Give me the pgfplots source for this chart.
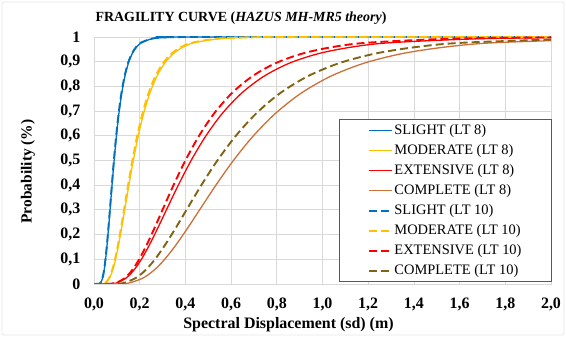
\documentclass[border=0pt]{standalone}
\usepackage{fontspec}
\setmainfont{Liberation Serif}
\usepackage{pgfplots}
\pgfplotsset{compat=1.18}
\definecolor{cSlight}{RGB}{0,112,192}
\definecolor{cMod}{RGB}{255,192,0}
\definecolor{cExt}{RGB}{255,0,0}
\definecolor{cComp}{RGB}{204,112,56}
\definecolor{cComp10}{RGB}{128,100,20}
\definecolor{gridc}{RGB}{217,217,217}
\definecolor{legc}{RGB}{89,89,89}
\begin{document}
\begin{tikzpicture}
\path[use as bounding box] (0bp,0bp) rectangle (566bp,337bp);
\draw[gray!20, line width=0.8bp, rounded corners=2bp] (2bp,2bp) rectangle (564bp,335bp);
\begin{axis}[
  at={(94bp,53bp)}, anchor=south west,
  scale only axis, width=457bp, height=247bp,
  xmin=0, xmax=2, ymin=0, ymax=1,
  xtick={0,0.2,0.4,0.6,0.8,1,1.2,1.4,1.6,1.8,2},
  ytick={0,0.1,0.2,0.3,0.4,0.5,0.6,0.7,0.8,0.9,1},
  grid=major,
  major grid style={gridc, line width=0.8bp},
  axis line style={gridc, line width=0.8bp},
  major tick length=0pt,
  tick style={draw=none},
  /pgf/number format/assume math mode=true,
  xticklabel style={font=\bfseries\fontsize{16}{18}\selectfont, inner sep=0pt, anchor=north, yshift=-14bp,
    /pgf/number format/fixed, /pgf/number format/fixed zerofill, /pgf/number format/precision=1, /pgf/number format/use comma},
  yticklabel style={font=\bfseries\fontsize{16}{18}\selectfont, inner sep=0pt, anchor=east, xshift=-13.5bp,
    /pgf/number format/fixed, /pgf/number format/precision=1, /pgf/number format/use comma},
  clip=true,
  legend cell align=left,
  legend image code/.code={\draw[#1] (0bp,0bp) -- (23bp,0bp);},
  legend style={at={(axis description cs:1.002,0.008)}, anchor=south east,
    draw=legc, line width=0.8bp, fill=white,
    font=\fontsize{14.5}{16}\selectfont,
    inner xsep=28bp, inner ysep=4bp, row sep=6bp,
    nodes={inner xsep=2bp, inner ysep=0pt, text height=11bp, text depth=3bp}},
]
% SLIGHT (LT 8)
\addplot[cSlight, line width=1.3bp, smooth] coordinates {
(0,0) (0.0242,0.0013) (0.0300,0.0062) (0.0372,0.0228) (0.0415,0.0401) (0.0462,0.0668) (0.0514,0.1056) (0.0572,0.1587) (0.0637,0.2266) (0.0710,0.3085) (0.0790,0.4013) (0.0880,0.5) (0.0980,0.5987) (0.1091,0.6915) (0.1215,0.7734) (0.1353,0.8413) (0.1506,0.8944) (0.1677,0.9332) (0.1868,0.9599) (0.2080,0.9772) (0.2578,0.9938) (0.3197,0.9987) (0.3964,0.9998) (2.0,1.0)};
\addlegendentry{SLIGHT (LT 8)}
% MODERATE (LT 8)
\addplot[cMod, line width=1.3bp, smooth] coordinates {
(0,0) (0.0420,0.0013) (0.0531,0.0062) (0.0672,0.0228) (0.0756,0.0401) (0.0850,0.0668) (0.0956,0.1056) (0.1075,0.1587) (0.1209,0.2266) (0.1360,0.3085) (0.1529,0.4013) (0.1720,0.5) (0.1934,0.5987) (0.2176,0.6915) (0.2447,0.7734) (0.2752,0.8413) (0.3095,0.8944) (0.3481,0.9332) (0.3915,0.9599) (0.4403,0.9772) (0.5570,0.9938) (0.7045,0.9987) (0.8911,0.9998) (2.0,1.0)};
\addlegendentry{MODERATE (LT 8)}
% EXTENSIVE (LT 8)
\addplot[cExt, line width=1.3bp, smooth] coordinates {
(0,0) (0.0792,0.0013) (0.1048,0.0062) (0.1387,0.0228) (0.1595,0.0401) (0.1835,0.0668) (0.2111,0.1056) (0.2428,0.1587) (0.2792,0.2266) (0.3212,0.3085) (0.3695,0.4013) (0.4250,0.5) (0.4889,0.5987) (0.5623,0.6915) (0.6469,0.7734) (0.7440,0.8413) (0.8559,0.8944) (0.9845,0.9332) (1.1324,0.9599) (1.3026,0.9772) (1.7235,0.9938) (2.2804,0.9987)};
\addlegendentry{EXTENSIVE (LT 8)}
% COMPLETE (LT 8)
\addplot[cComp, line width=1.3bp, smooth] coordinates {
(0,0) (0.1244,0.0013) (0.1621,0.0062) (0.2114,0.0228) (0.2413,0.0401) (0.2755,0.0668) (0.3145,0.1056) (0.3590,0.1587) (0.4099,0.2266) (0.4680,0.3085) (0.5343,0.4013) (0.6100,0.5) (0.6964,0.5987) (0.7951,0.6915) (0.9077,0.7734) (1.0363,0.8413) (1.1832,0.8944) (1.3508,0.9332) (1.5422,0.9599) (1.7607,0.9772) (2.2949,0.9938)};
\addlegendentry{COMPLETE (LT 8)}
% SLIGHT (LT 10)
\addplot[cSlight, line width=1.9bp, dash pattern=on 8bp off 4bp, smooth] coordinates {
(0,0) (0.0240,0.0013) (0.0297,0.0062) (0.0368,0.0228) (0.0410,0.0401) (0.0456,0.0668) (0.0508,0.1056) (0.0566,0.1587) (0.0630,0.2266) (0.0702,0.3085) (0.0781,0.4013) (0.0870,0.5) (0.0969,0.5987) (0.1079,0.6915) (0.1201,0.7734) (0.1337,0.8413) (0.1489,0.8944) (0.1658,0.9332) (0.1846,0.9599) (0.2056,0.9772) (0.2549,0.9938) (0.3161,0.9987) (0.3919,0.9998) (2.0,1.0)};
\addlegendentry{SLIGHT (LT 10)}
% MODERATE (LT 10)
\addplot[cMod, line width=1.9bp, dash pattern=on 8bp off 4bp, smooth] coordinates {
(0,0) (0.0410,0.0013) (0.0519,0.0062) (0.0656,0.0228) (0.0738,0.0401) (0.0830,0.0668) (0.0934,0.1056) (0.1050,0.1587) (0.1181,0.2266) (0.1328,0.3085) (0.1494,0.4013) (0.1680,0.5) (0.1889,0.5987) (0.2125,0.6915) (0.2390,0.7734) (0.2688,0.8413) (0.3023,0.8944) (0.3400,0.9332) (0.3824,0.9599) (0.4301,0.9772) (0.5440,0.9938) (0.6881,0.9987) (0.8704,0.9998) (2.0,1.0)};
\addlegendentry{MODERATE (LT 10)}
% EXTENSIVE (LT 10)
\addplot[cExt, line width=1.9bp, dash pattern=on 8bp off 4bp, smooth] coordinates {
(0,0) (0.0768,0.0013) (0.1011,0.0062) (0.1332,0.0228) (0.1528,0.0401) (0.1753,0.0668) (0.2011,0.1056) (0.2308,0.1587) (0.2648,0.2266) (0.3038,0.3085) (0.3486,0.4013) (0.4000,0.5) (0.4590,0.5987) (0.5266,0.6915) (0.6042,0.7734) (0.6933,0.8413) (0.7955,0.8944) (0.9128,0.9332) (1.0473,0.9599) (1.2017,0.9772) (1.5820,0.9938) (2.0828,0.9987)};
\addlegendentry{EXTENSIVE (LT 10)}
% COMPLETE (LT 10)
\addplot[cComp10, line width=1.9bp, dash pattern=on 8bp off 4bp, smooth] coordinates {
(0,0) (0.1037,0.0013) (0.1365,0.0062) (0.1798,0.0228) (0.2062,0.0401) (0.2366,0.0668) (0.2715,0.1056) (0.3115,0.1587) (0.3575,0.2266) (0.4102,0.3085) (0.4706,0.4013) (0.5400,0.5) (0.6196,0.5987) (0.7109,0.6915) (0.8157,0.7734) (0.9360,0.8413) (1.0739,0.8944) (1.2322,0.9332) (1.4138,0.9599) (1.6223,0.9772) (2.1358,0.9938)};
\addlegendentry{COMPLETE (LT 10)}
\end{axis}
\node[font=\bfseries\fontsize{14}{16}\selectfont] at (241bp,319bp) {FRAGILITY CURVE (\textit{HAZUS MH-MR5 theory})};
\node[font=\bfseries\fontsize{16}{18}\selectfont] at (288.5bp,12bp) {Spectral Displacement (sd) (m)};
\node[font=\bfseries\fontsize{15.5}{18}\selectfont, rotate=90] at (28bp,165.5bp) {Probability (\%)};
\end{tikzpicture}
\end{document}
